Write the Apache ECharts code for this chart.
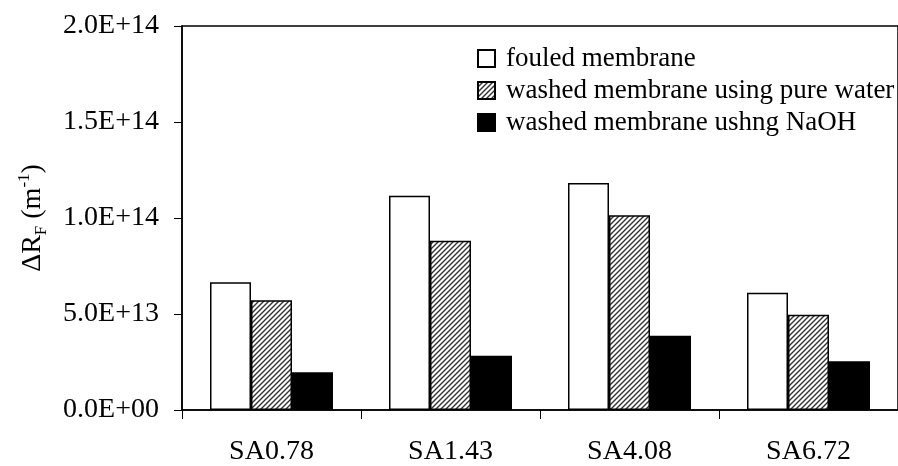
<!DOCTYPE html>
<html>
<head>
<meta charset="utf-8">
<script src="https://cdn.jsdelivr.net/npm/echarts@6/dist/echarts.min.js"></script>
<style>
html,body{margin:0;padding:0;background:#fff;}
#chart{width:898px;height:466px;}
</style>
</head>
<body>
<div id="chart"></div>
<script>
const categories = ['SA0.78', 'SA1.43', 'SA4.08', 'SA6.72'];
const seriesNames = ['fouled membrane', 'washed membrane using pure water', 'washed membrane ushng NaOH'];
const fouled = [6.65e13, 11.16e13, 11.82e13, 6.11e13];
const pureWater = [5.71e13, 8.81e13, 10.14e13, 4.96e13];
const naoh = [1.97e13, 2.82e13, 3.87e13, 2.54e13];

function makeHatch() {
  const c = document.createElement('canvas');
  c.width = 5; c.height = 5;
  const g = c.getContext('2d');
  g.fillStyle = '#fff';
  g.fillRect(0, 0, 5, 5);
  g.strokeStyle = '#333';
  g.lineWidth = 1.4;
  g.beginPath();
  g.moveTo(-1, 6); g.lineTo(6, -1);
  g.moveTo(-1, 1); g.lineTo(1, -1);
  g.moveTo(4, 6); g.lineTo(6, 4);
  g.stroke();
  return c;
}
const hatch = { image: makeHatch(), repeat: 'repeat' };

function fmt(v) {
  const s = Number(v).toExponential(1).toUpperCase();
  return s.replace(/E([+-])(\d)$/, 'E$10$2');
}

const FONT = 'Liberation Serif';
const FS = 28;
const chart = echarts.init(document.getElementById('chart'));
const border = { borderColor: '#000', borderWidth: 1.5 };
chart.setOption({
  animation: false,
  backgroundColor: '#fff',
  textStyle: { fontFamily: FONT, color: '#000' },
  grid: { left: 182, top: 26, width: 728, height: 384, show: true, borderColor: '#000', borderWidth: 1.5, backgroundColor: 'transparent' },
  legend: {
    orient: 'vertical',
    left: 472,
    top: 40,
    itemWidth: 17,
    itemHeight: 17,
    itemGap: 5,
    icon: 'rect',
    data: seriesNames,
    textStyle: { fontFamily: FONT, fontSize: 27, color: '#000', padding: [0, 0, 0, 6] }
  },
  xAxis: {
    type: 'category',
    data: categories,
    axisLine: { lineStyle: { color: '#000', width: 1.5 } },
    axisTick: { show: true, length: 9, lineStyle: { color: '#000', width: 1 } },
    axisLabel: { fontFamily: FONT, fontSize: FS, color: '#000', margin: 28 },
    splitLine: { show: false }
  },
  yAxis: {
    type: 'value',
    min: 0,
    max: 2e14,
    interval: 5e13,
    axisLine: { show: true, lineStyle: { color: '#000', width: 1.5 } },
    axisTick: { show: true, length: 8, lineStyle: { color: '#000', width: 1 } },
    axisLabel: { fontFamily: FONT, fontSize: FS, color: '#000', margin: 23, formatter: fmt },
    splitLine: { show: false },
    name: '{b|ΔR}{sub|F}{b| (m}{sup|-1}{b|)}',
    nameLocation: 'middle',
    nameGap: 132,
    nameRotate: 90,
    nameTextStyle: {
      fontFamily: FONT,
      rich: {
        b: { fontFamily: FONT, fontSize: FS, color: '#000', lineHeight: 34, verticalAlign: 'middle' },
        sub: { fontFamily: FONT, fontSize: 17, color: '#000', lineHeight: 34, verticalAlign: 'bottom' },
        sup: { fontFamily: FONT, fontSize: 17, color: '#000', lineHeight: 34, verticalAlign: 'top' }
      }
    }
  },
  series: [
    { name: seriesNames[0], type: 'bar', data: fouled, barWidth: 41, barGap: '0%', itemStyle: Object.assign({ color: '#fff' }, border) },
    { name: seriesNames[1], type: 'bar', data: pureWater, barWidth: 41, barGap: '0%', itemStyle: Object.assign({ color: hatch }, border) },
    { name: seriesNames[2], type: 'bar', data: naoh, barWidth: 41, barGap: '0%', itemStyle: Object.assign({ color: '#000' }, border) }
  ]
});
</script>
</body>
</html>
